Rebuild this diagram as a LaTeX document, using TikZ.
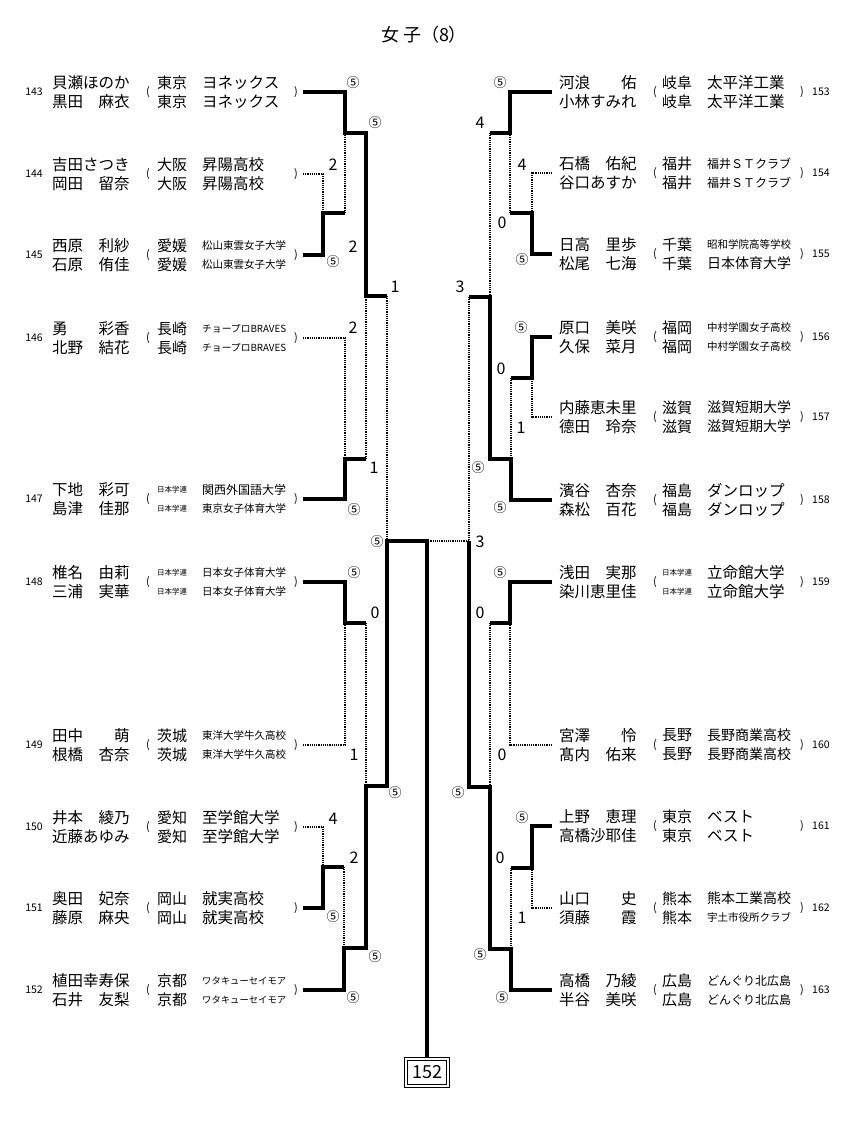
\documentclass[tikz,border=0pt]{standalone}
\usepackage{fontspec}
\usepackage{graphicx}
\newfontfamily\jp{Noto Sans CJK JP}
\newsavebox{\fitbox}
\newcommand{\fitto}[2]{\sbox{\fitbox}{#2}\ifdim\wd\fitbox>#1\relax\resizebox{#1}{!}{#2}\else\usebox{\fitbox}\fi}
\newcommand{\five}{{\fontsize{13}{13}\selectfont ⑤}}
\tikzset{
	tx/.style={anchor=west, inner sep=0pt, font=\jp\fontsize{15.5}{18}\selectfont},
	no/.style={inner sep=0pt, font=\jp\fontsize{10.5}{12}\selectfont},
	pr/.style={inner sep=0pt, font=\jp\fontsize{11}{12}\selectfont},
	sc/.style={inner sep=0pt, font=\jp\fontsize{16}{16}\selectfont},
	win/.style={line width=4pt},
	lose/.style={line width=1.8pt, dash pattern=on 1.2pt off 1pt},
	frame/.style={draw, line width=0.8pt, inner sep=0pt}
}
% one pair, left half
\newcommand{\playerL}[8]{%
	\node[no, anchor=east] (k#1) at (43,#2) {#1};
	\node[tx] (n#1a) at (52,#2-9.5) {#3};
	\node[tx] (n#1b) at (52,#2+9.5) {#4};
	\node[pr] (o#1) at (148,#2) {(};
	\node[tx] (p#1a) at (157,#2-9.5) {\fitto{30pt}{#5}};
	\node[tx] (p#1b) at (157,#2+9.5) {\fitto{30pt}{#7}};
	\node[tx] (t#1a) at (202,#2-9.5) {\fitto{84pt}{#6}};
	\node[tx] (t#1b) at (202,#2+9.5) {\fitto{84pt}{#8}};
	\node[pr] (c#1) at (296,#2) {)};
	\coordinate (e#1) at (303,#2);
}
% one pair, right half
\newcommand{\playerR}[8]{%
	\node[tx] (n#1a) at (559,#2-9.5) {#3};
	\node[tx] (n#1b) at (559,#2+9.5) {#4};
	\node[pr] (o#1) at (655,#2) {(};
	\node[tx] (p#1a) at (662,#2-9.5) {\fitto{30pt}{#5}};
	\node[tx] (p#1b) at (662,#2+9.5) {\fitto{30pt}{#7}};
	\node[tx] (t#1a) at (707,#2-9.5) {\fitto{84pt}{#6}};
	\node[tx] (t#1b) at (707,#2+9.5) {\fitto{84pt}{#8}};
	\node[pr] (c#1) at (802,#2) {)};
	\node[no, anchor=west] (k#1) at (812,#2) {#1};
	\coordinate (e#1) at (552,#2);
}
\begin{document}
\begin{tikzpicture}[x=1pt,y=-1pt]
			\useasboundingbox (0,0) rectangle (864,1127);
			\node[font=\jp\fontsize{18}{18}\selectfont] (title) at (424,35) {女\hspace{4pt}子（8）};

			% players
			\playerL{143}{92}{貝瀬ほのか}{黒田　麻衣}{東京}{ヨネックス}{東京}{ヨネックス}
			\playerL{144}{174}{吉田さつき}{岡田　留奈}{大阪}{昇陽高校}{大阪}{昇陽高校}
			\playerL{145}{255}{西原　利紗}{石原　侑佳}{愛媛}{松山東雲女子大学}{愛媛}{松山東雲女子大学}
			\playerL{146}{338}{勇　　彩香}{北野　結花}{長崎}{チョープロBRAVES}{長崎}{チョープロBRAVES}
			\playerL{147}{499}{下地　彩可}{島津　佳那}{日本学連}{関西外国語大学}{日本学連}{東京女子体育大学}
			\playerL{148}{582}{椎名　由莉}{三浦　実華}{日本学連}{日本女子体育大学}{日本学連}{日本女子体育大学}
			\playerL{149}{745}{田中　　萌}{根橋　杏奈}{茨城}{東洋大学牛久高校}{茨城}{東洋大学牛久高校}
			\playerL{150}{827}{井本　綾乃}{近藤あゆみ}{愛知}{至学館大学}{愛知}{至学館大学}
			\playerL{151}{908}{奥田　妃奈}{藤原　麻央}{岡山}{就実高校}{岡山}{就実高校}
			\playerL{152}{990}{植田幸寿保}{石井　友梨}{京都}{ワタキューセイモア}{京都}{ワタキューセイモア}

			\playerR{153}{92}{河浪　　佑}{小林すみれ}{岐阜}{太平洋工業}{岐阜}{太平洋工業}
			\playerR{154}{173}{石橋　佑紀}{谷口あすか}{福井}{福井ＳＴクラブ}{福井}{福井ＳＴクラブ}
			\playerR{155}{254}{日高　里歩}{松尾　七海}{千葉}{昭和学院高等学校}{千葉}{日本体育大学}
			\playerR{156}{337}{原口　美咲}{久保　菜月}{福岡}{中村学園女子高校}{福岡}{中村学園女子高校}
			\playerR{157}{417}{内藤恵未里}{德田　玲奈}{滋賀}{滋賀短期大学}{滋賀}{滋賀短期大学}
			\playerR{158}{500}{濱谷　杏奈}{森松　百花}{福島}{ダンロップ}{福島}{ダンロップ}
			\playerR{159}{582}{浅田　実那}{染川恵里佳}{日本学連}{立命館大学}{日本学連}{立命館大学}
			\playerR{160}{745}{宮澤　　怜}{髙内　佑来}{長野}{長野商業高校}{長野}{長野商業高校}
			\playerR{161}{826}{上野　恵理}{高橋沙耶佳}{東京}{ベスト}{東京}{ベスト}
			\playerR{162}{908}{山口　　史}{須藤　　霞}{熊本}{熊本工業高校}{熊本}{宇土市役所クラブ}
			\playerR{163}{990}{高橋　乃綾}{半谷　美咲}{広島}{どんぐり北広島}{広島}{どんぐり北広島}

			% match points
			\coordinate (L1) at (323,213);
			\coordinate (L2) at (345,133);
			\coordinate (L3) at (345,459);
			\coordinate (L4) at (366,296);
			\coordinate (L5) at (345,623);
			\coordinate (L6) at (323,867);
			\coordinate (L7) at (344,948);
			\coordinate (L8) at (366,786);
			\coordinate (L9) at (387,541);
			\coordinate (F) at (427,541);
			\coordinate (R1) at (532,213);
			\coordinate (R2) at (510,133);
			\coordinate (R3) at (532,378);
			\coordinate (R4) at (511,459);
			\coordinate (R5) at (490,297);
			\coordinate (R6) at (510,623);
			\coordinate (R7) at (532,868);
			\coordinate (R8) at (511,949);
			\coordinate (R9) at (490,787);
			\coordinate (R10) at (469,541);
			\node[frame, minimum width=45pt, minimum height=30pt] (champ) at (427,1072) {};
			\node[frame, minimum width=39pt, minimum height=24pt, font=\jp\fontsize{18}{18}\selectfont] (champin) at (427,1072) {152};

			% lost
			\draw[lose] (e144) -| (L1);
			\draw[lose] (L1 -| L2) -- (L2);
			\draw[lose] (e146) -| (L3);
			\draw[lose] (L3 -| L4) -- (L4);
			\draw[lose] (L4 -| L9) -- (L9);
			\draw[lose] (e149) -| (L5);
			\draw[lose] (L5 -| L8) -- (L8);
			\draw[lose] (e150) -| (L6);
			\draw[lose] (L6 -| L7) -- (L7);
			\draw[lose] (e154) -| (R1);
			\draw[lose] (R1 -| R2) -- (R2);
			\draw[lose] (e157) -| (R3);
			\draw[lose] (R3 -| R4) -- (R4);
			\draw[lose] (R2 -| R5) -- (R5);
			\draw[lose] (R5 -| R10) -- (R10);
			\draw[lose] (e160) -| (R6);
			\draw[lose] (R6 -| R9) -- (R9);
			\draw[lose] (e162) -| (R7);
			\draw[lose] (R7 -| R8) -- (R8);
			\draw[lose] (R10) -- (F);

			% won
			\draw[win] (e143) -| (L2) -| (L4) -- (L4 -| L9);
			\draw[win] (e145) -| (L1) -- (L1 -| L2);
			\draw[win] (e147) -| (L3) -- (L3 -| L4);
			\draw[win] (e148) -| (L5) -- (L5 -| L8);
			\draw[win] (e151) -| (L6) -- (L6 -| L7);
			\draw[win] (e152) -| (L7) -| (L8) -| (L9) -- (F) -- (champ.north);
			\draw[win] (e153) -| (R2) -- (R2 -| R5);
			\draw[win] (e155) -| (R1) -- (R1 -| R2);
			\draw[win] (e156) -| (R3) -- (R3 -| R4);
			\draw[win] (e158) -| (R4) -| (R5) -- (R5 -| R10);
			\draw[win] (e159) -| (R6) -- (R6 -| R9);
			\draw[win] (e161) -| (R7) -- (R7 -| R8);
			\draw[win] (e163) -| (R8) -| (R9) -| (R10);

			% scores
			\node[sc] (sa1) at (353,83) {\five};
			\node[sc] (sa2) at (375,123) {\five};
			\node[sc] (sa3) at (333,165) {2};
			\node[sc] (sa4) at (333,262) {\five};
			\node[sc] (sa5) at (353,247) {2};
			\node[sc] (sa6) at (395,287) {1};
			\node[sc] (sa7) at (353,328) {2};
			\node[sc] (sa8) at (374,468) {1};
			\node[sc] (sa9) at (354,510) {\five};
			\node[sc] (sa10) at (377,542) {\five};
			\node[sc] (sa11) at (354,573) {\five};
			\node[sc] (sa12) at (375,613) {0};
			\node[sc] (sa13) at (354,755) {1};
			\node[sc] (sa14) at (395,793) {\five};
			\node[sc] (sa15) at (333,819) {4};
			\node[sc] (sa16) at (354,858) {2};
			\node[sc] (sa17) at (333,917) {\five};
			\node[sc] (sa18) at (375,957) {\five};
			\node[sc] (sa19) at (353,998) {\five};
			\node[sc] (sb1) at (500,83) {\five};
			\node[sc] (sb2) at (480,123) {4};
			\node[sc] (sb3) at (522,165) {4};
			\node[sc] (sb4) at (502,223) {0};
			\node[sc] (sb5) at (522,260) {\five};
			\node[sc] (sb6) at (460,287) {3};
			\node[sc] (sb7) at (521,328) {\five};
			\node[sc] (sb8) at (501,369) {0};
			\node[sc] (sb9) at (521,428) {1};
			\node[sc] (sb10) at (478,468) {\five};
			\node[sc] (sb11) at (500,508) {\five};
			\node[sc] (sb12) at (480,542) {3};
			\node[sc] (sb13) at (500,573) {\five};
			\node[sc] (sb14) at (480,613) {0};
			\node[sc] (sb15) at (502,755) {0};
			\node[sc] (sb16) at (458,793) {\five};
			\node[sc] (sb17) at (522,818) {\five};
			\node[sc] (sb18) at (500,858) {0};
			\node[sc] (sb19) at (522,918) {1};
			\node[sc] (sb20) at (480,955) {\five};
			\node[sc] (sb21) at (502,998) {\five};
\end{tikzpicture}
\end{document}
